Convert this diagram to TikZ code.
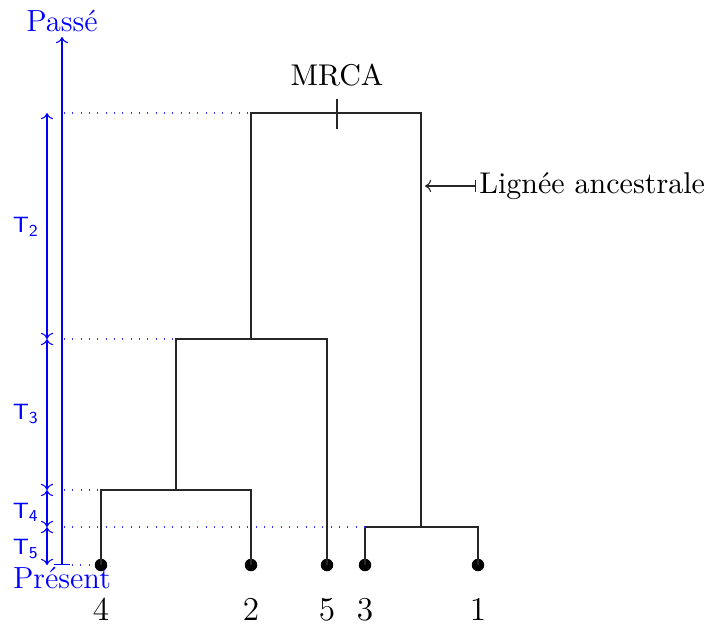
\documentclass[tikz,border=0pt]{standalone}
\usetikzlibrary{arrows.meta}
\begin{document}
\begin{tikzpicture}[x=0.36pt,y=-0.36pt,
  leaf/.style={circle,fill=black,inner sep=0pt,minimum size=4.5pt},
  leaflab/.style={inner sep=0pt,font=\fontsize{11.5}{13}\selectfont},
  tree/.style={black!85,line width=0.38pt},
  guide/.style={blue!80,line width=0.4pt,dash pattern=on 0.4pt off 2.6pt},
  axis/.style={blue,line width=0.38pt},
  tlab/.style={blue,font=\sffamily\footnotesize},
  blab/.style={blue,inner sep=0pt,font=\fontsize{11}{13}\selectfont},
  txt/.style={font=\fontsize{10.8}{13}\selectfont},
  tips/.style={{To[length=2.2pt,width=4.4pt]}-{To[length=2.2pt,width=4.4pt]}}]
\useasboundingbox (0,0) rectangle (705,626);
% leaves
\node[leaf] (l4) at (101,565) {};
\node[leaf] (l2) at (251,565) {};
\node[leaf] (l5) at (327,565) {};
\node[leaf] (l3) at (365,565) {};
\node[leaf] (l1) at (478,565) {};
\node[leaflab] (t4) at (101,610) {$4$};
\node[leaflab] (t2) at (251,610) {$2$};
\node[leaflab] (t5) at (327,610) {$5$};
\node[leaflab] (t3) at (365,610) {$3$};
\node[leaflab] (t1) at (478,610) {$1$};
% internal nodes
\coordinate (n42) at (176,490);
\coordinate (n425) at (251,339);
\coordinate (n31) at (421,527);
\coordinate (root) at (337,113);
\coordinate (rootL) at (251,113);
\coordinate (rootR) at (421,113);
\draw[tree] (l4.center) |- (n42) -| (l2.center);
\draw[tree] (n42) |- (n425) -| (l5.center);
\draw[tree] (l3.center) |- (n31) -| (l1.center);
\draw[tree] (n425) -- (rootL) -- (rootR) -- (n31);
\draw[tree] ([yshift=-5.6pt]root) -- ([yshift=5.2pt]root);
\node[txt] (mrca) at (337,75) {MRCA};
% ancestral lineage
\coordinate (lin) at (425,186);
\node[txt,anchor=west,inner sep=1pt] (lig) at (476,186) {Lignée ancestrale};
\draw[tree,{Bar[width=4.5pt]}-{To[length=2.2pt,width=4.4pt]}] (lig.west) -- (lin);
% time axis
\coordinate (past) at (62,37);
\coordinate (now) at (62,565);
\draw[axis,{Bar[width=5.5pt]}-{To[length=2.2pt,width=4.4pt]}] (now) -- (past);
\node[blab] (passe) at (62,21) {Passé};
\node[blab,anchor=base] (present) at (62,588) {Présent};
% intervals
\coordinate (a2) at (47,113);
\coordinate (a3) at (47,339);
\coordinate (a4) at (47,490);
\coordinate (a5) at (47,527);
\coordinate (a6) at (47,565);
\draw[axis,tips] (a2) -- (a3);
\draw[axis,tips] (a3) -- (a4);
\draw[axis,tips] (a4) -- (a5);
\draw[axis,tips] (a5) -- (a6);
\node[tlab] (T2) at (26,227) {T\textsubscript{2}};
\node[tlab] (T3) at (26,414) {T\textsubscript{3}};
\node[tlab] (T4) at (26,512) {T\textsubscript{4}};
\node[tlab] (T5) at (26,549) {T\textsubscript{5}};
% guides
\coordinate (g1) at (64,113);
\coordinate (g2) at (64,339);
\coordinate (g3) at (64,490);
\coordinate (g4) at (64,527);
\coordinate (g5) at (72,565);
\draw[guide] (g1) -- (rootL);
\draw[guide] (g2) -- (176,339);
\draw[guide] (g3) -- (101,490);
\draw[guide] (g4) -- (365,527);
\draw[guide] (g5) -- (l4.west);
\end{tikzpicture}
\end{document}
